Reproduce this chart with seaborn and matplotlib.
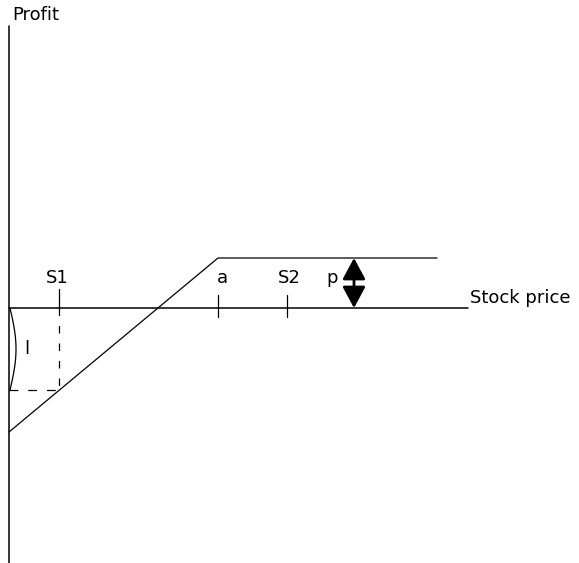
import numpy as np
import pandas as pd
import matplotlib
matplotlib.use("Agg")
import matplotlib.pyplot as plt
import seaborn as sns

# profit diagram values (x = stock price, y = profit), axis origin at (0, 0)
price_pts = [0, 209, 428]
profit_pts = [-124, 50, 50]
s1 = 50
a_strike = 209
s2 = 278
p_level = 50
p_arrow_x = 345
loss_at_s1 = -82
x_axis_end = 459
y_axis_top = 282
y_axis_bottom = -255

sns.set_style("white")
plt.rcParams['font.family'] = ['DejaVu Sans']
plt.rcParams['text.color'] = 'black'

fig = plt.figure(figsize=(5.79, 5.63), dpi=100)
ax = fig.add_axes([0, 0, 1, 1])
ax.set_xlim(-9, 570)
ax.set_ylim(-255, 308)
ax.axis("off")

# axes of the diagram
ax.plot([0, 0], [y_axis_bottom, y_axis_top], color="black", lw=1.1)
ax.plot([0, x_axis_end], [0, 0], color="black", lw=1.1)

# payoff line
df = pd.DataFrame({"price": price_pts, "profit": profit_pts})
sns.lineplot(data=df, x="price", y="profit", color="black", lw=0.9, ax=ax)

# ticks
ax.plot([s1, s1], [0, 19], color="black", lw=0.9)
ax.plot([a_strike, a_strike], [13, -9], color="black", lw=0.9)
ax.plot([s2, s2], [13, -9], color="black", lw=0.9)

# loss guide lines at S1
ax.plot([s1, s1], [0, loss_at_s1], color="black", lw=0.9, linestyle=(0, (6, 8)))
ax.plot([0, s1], [loss_at_s1, loss_at_s1], color="black", lw=0.9, linestyle=(0, (7, 8)))

# bracket for the loss l
t = np.linspace(0, np.pi, 50)
ax.plot(1 + 6 * np.sin(t), loss_at_s1 * t / np.pi, color="black", lw=0.9)
ax.text(18, loss_at_s1 / 2, "l", fontsize=13, ha="center", va="center")

# double arrow for p
ax.annotate("", xy=(p_arrow_x, p_level), xytext=(p_arrow_x, 0),
            arrowprops=dict(arrowstyle="<|-|>,head_length=1.3,head_width=0.7",
                            color="black", lw=2, shrinkA=0, shrinkB=0))

# labels
fs = 13
ax.text(3, 293, "Profit", fontsize=fs, ha="left", va="center")
ax.text(48, 30, "S1", fontsize=fs, ha="center", va="center")
ax.text(213, 30, "a", fontsize=fs, ha="center", va="center")
ax.text(280, 30, "S2", fontsize=fs, ha="center", va="center")
ax.text(323, 30, "p", fontsize=fs, ha="center", va="center")
ax.text(461, 10, "Stock price", fontsize=fs, ha="left", va="center")

fig.savefig("out.png", dpi=100, facecolor="white")
